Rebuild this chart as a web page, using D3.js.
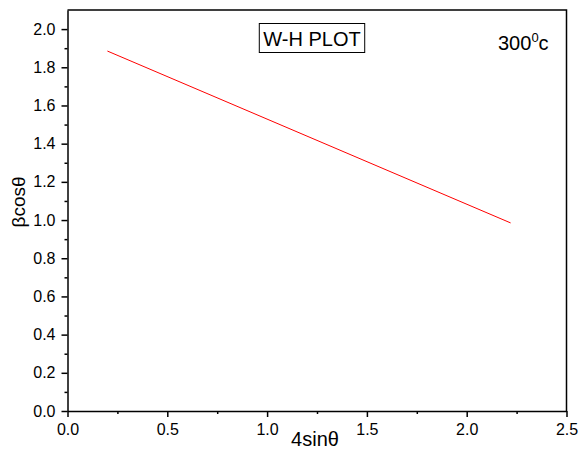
<!DOCTYPE html>
<html>
<head>
<meta charset="utf-8">
<script src="https://cdn.jsdelivr.net/npm/d3@7"></script>
<style>
  body { margin: 0; background: #fff; }
  svg { display: block; font-family: Arial, "Liberation Sans", sans-serif; }
  .tick text { font-size: 16px; fill: #000; }
</style>
</head>
<body>
<div id="chart"></div>
<script>
'use strict';

// fitted W-H line
var lineX = [0.2, 2.22];
var lineY = [1.885, 0.985];

var xTicks = [0.0, 0.5, 1.0, 1.5, 2.0, 2.5];
var yTicks = [0.0, 0.2, 0.4, 0.6, 0.8, 1.0, 1.2, 1.4, 1.6, 1.8, 2.0];

var width = 579,
    height = 449,
    margin = { top: 10, left: 67.5, right: 12.5, bottom: 38 },
    innerW = width - margin.left - margin.right,
    innerH = height - margin.top - margin.bottom;

var svg = d3.select('#chart').append('svg')
    .attr('width', width)
    .attr('height', height);

var g = svg.append('g')
    .attr('transform', 'translate(' + margin.left + ',' + margin.top + ')');

var x = d3.scaleLinear().domain([0, 2.5]).range([0, innerW]);
var y = d3.scaleLinear().domain([0, 2.1]).range([innerH, 0]);

//minor ticks first, then the major axis over them
g.append('g')
    .attr('transform', 'translate(0,' + innerH + ')')
    .call(d3.axisBottom(x).tickValues(d3.range(0.25, 2.5, 0.5)).tickSize(3).tickFormat(''))
    .call(a => a.select('.domain').remove());

g.append('g')
    .call(d3.axisLeft(y).tickValues(d3.range(0.1, 2.1, 0.2)).tickSize(3).tickFormat(''))
    .call(a => a.select('.domain').remove());

g.append('g')
    .attr('transform', 'translate(0,' + innerH + ')')
    .call(d3.axisBottom(x).tickValues(xTicks).tickSize(6).tickSizeOuter(0).tickPadding(7).tickFormat(d3.format('.1f')));

g.append('g')
    .call(d3.axisLeft(y).tickValues(yTicks).tickSize(6).tickSizeOuter(0).tickPadding(6).tickFormat(d3.format('.1f')));

g.selectAll('.domain, .tick line').attr('stroke', '#000').attr('stroke-width', 1.5);

// top and right frame
g.append('path')
    .attr('d', 'M0,0H' + innerW + 'V' + innerH)
    .attr('fill', 'none')
    .attr('stroke', '#000')
    .attr('stroke-width', 1.5);

g.append('path')
    .datum(lineX.map((v, i) => [v, lineY[i]]))
    .attr('d', d3.line().x(d => x(d[0])).y(d => y(d[1])))
    .attr('fill', 'none')
    .attr('stroke', '#ff0000')
    .attr('stroke-width', 1);

// axis titles
svg.append('text')
    .attr('x', 315)
    .attr('y', 446)
    .attr('text-anchor', 'middle')
    .attr('font-size', 20)
    .text('4sinθ');

svg.append('text')
    .attr('transform', 'translate(25,202) rotate(-90)')
    .attr('text-anchor', 'middle')
    .attr('font-size', 19)
    .text('βcosθ');

// title box
var title = svg.append('text')
    .attr('x', 312)
    .attr('y', 46)
    .attr('text-anchor', 'middle')
    .attr('font-size', 20)
    .text('W-H PLOT');

var bb = title.node().getBBox();
svg.append('rect')
    .attr('x', bb.x - 4)
    .attr('y', 23.5)
    .attr('width', bb.width + 8)
    .attr('height', 29)
    .attr('fill', 'none')
    .attr('stroke', '#000')
    .attr('stroke-width', 1);

var temp = svg.append('text')
    .attr('x', 498)
    .attr('y', 50)
    .attr('font-size', 20);
temp.append('tspan').text('300');
temp.append('tspan').attr('dy', -8).attr('font-size', 13).text('0');
temp.append('tspan').attr('dy', 8).text('c');
</script>
</body>
</html>
